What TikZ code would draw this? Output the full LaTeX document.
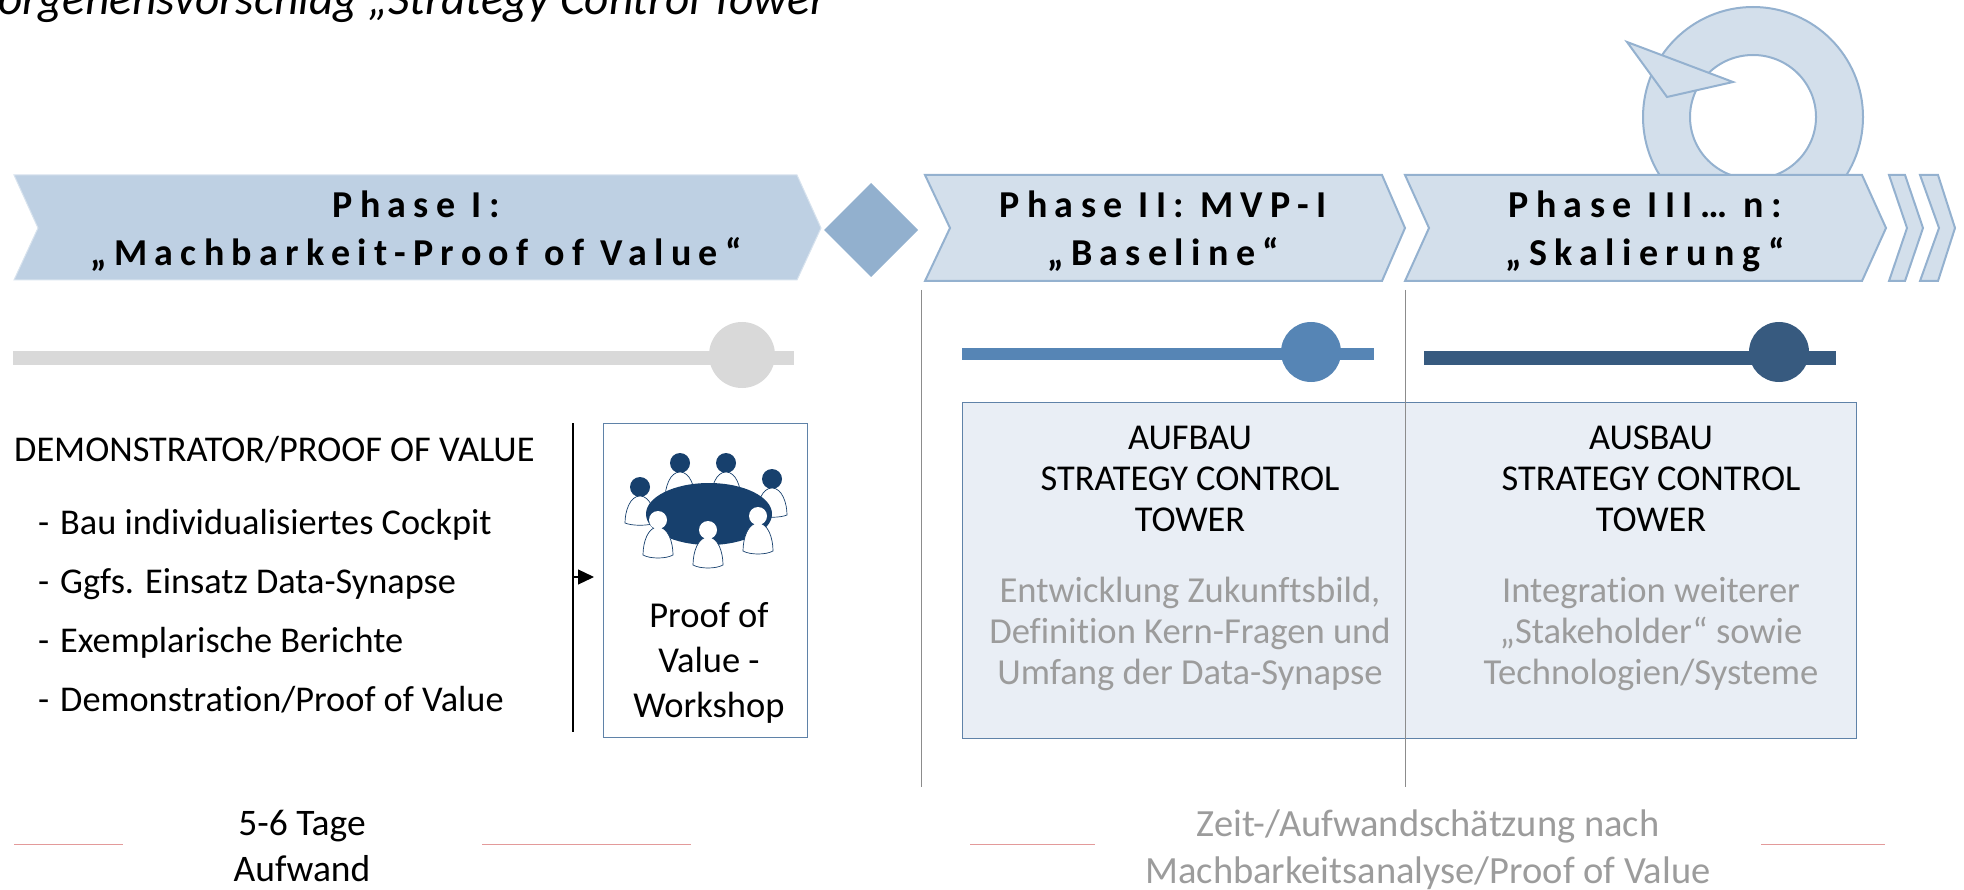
\documentclass[tikz,border=0pt]{standalone}
\usepackage{fontspec}
\setmainfont[Ligatures=NoCommon]{Carlito}
\newfontfamily\phasefont[LetterSpace=19.4,Ligatures=NoCommon]{Carlito}
\definecolor{chevA}{HTML}{BED0E3}
\definecolor{chevB}{HTML}{D3DFEB}
\definecolor{chevLine}{HTML}{94B1CF}
\definecolor{diam}{HTML}{92B0CE}
\definecolor{barGrey}{HTML}{D9D9D9}
\definecolor{barMid}{HTML}{5685B5}
\definecolor{barDark}{HTML}{375A7F}
\definecolor{panel}{HTML}{E9EEF5}
\definecolor{panelLine}{HTML}{5F82A8}
\definecolor{navy}{HTML}{17406D}
\definecolor{softGrey}{HTML}{9C9C9C}
\definecolor{redLine}{HTML}{E39A9A}
\definecolor{rule}{HTML}{8C8C8C}
\usetikzlibrary{arrows.meta}
\tikzset{
  chevfill/.style={fill=chevB,draw=chevLine,line width=2pt,line join=miter},
  phasetext/.style={font=\phasefont\bfseries\fontsize{38}{48}\selectfont,align=center,text=black,inner sep=0pt},
  bodytext/.style={font=\fontsize{36.4}{41}\selectfont,align=center,inner sep=0pt,text=black},
  softtext/.style={font=\fontsize{36.6}{40.7}\selectfont,align=center,inner sep=0pt,text=softGrey},
  listtext/.style={font=\fontsize{36.3}{41}\selectfont,anchor=base west,inner sep=0pt,text=black},
  redrule/.style={draw=redLine,line width=1pt},
  grule/.style={draw=rule,line width=0.9pt}
}
\newcommand{\backperson}[2]{%
  \fill[navy] (#1,#2) circle (10);
  \draw[navy,fill=white,line width=0.7pt] (#1-15,#2+36) .. controls (#1-15,#2+24) and (#1-10,#2+9) .. (#1,#2+9) .. controls (#1+10,#2+9) and (#1+15,#2+24) .. (#1+15,#2+36) .. controls (#1+8,#2+39) and (#1-8,#2+39) .. (#1-15,#2+36) -- cycle;
}
\newcommand{\frontperson}[2]{%
  \draw[navy,fill=white,line width=0.7pt] (#1-15,#2+35) .. controls (#1-15,#2+22) and (#1-10,#2+7) .. (#1,#2+7) .. controls (#1+10,#2+7) and (#1+15,#2+22) .. (#1+15,#2+35) .. controls (#1+8,#2+39) and (#1-8,#2+39) .. (#1-15,#2+35) -- cycle;
  \fill[white] (#1,#2) circle (9);
}
\begin{document}
\begin{tikzpicture}[x=1pt,y=-1pt]
\useasboundingbox (0,0) rectangle (1964,890);
\clip (0,0) rectangle (1964,890);
% title
\node[anchor=base west,inner sep=0pt,font=\itshape\fontsize{47.3}{50}\selectfont] (title) at (-27,15) {Vorgehensvorschlag „Strategy Control Tower};
% ring
\path[chevfill,even odd rule] (1753,117) ellipse [x radius=110,y radius=110] (1753,117) ellipse [x radius=63,y radius=62];
\path[chevfill] (1627,42) -- (1733,82) -- (1667,97) -- cycle;
% chevrons
\path[fill=chevA,draw=chevA!60!white,line width=1pt] (14,175) -- (797,175) -- (821,228) -- (797,280) -- (14,280) -- (38,228) -- cycle;
\path[fill=diam] (871,183) -- (918,230) -- (871,277) -- (824,230) -- cycle;
\path[chevfill] (925,175) -- (1382,175) -- (1405,228) -- (1382,281) -- (925,281) -- (950,228) -- cycle;
\path[chevfill] (1405,175) -- (1862,175) -- (1886,228) -- (1862,281) -- (1405,281) -- (1429,228) -- cycle;
\path[chevfill] (1889,175) -- (1905,175) -- (1923,228) -- (1905,281) -- (1889,281) -- (1907,228) -- cycle;
\path[chevfill] (1920,175) -- (1938,175) -- (1955,228) -- (1938,281) -- (1920,281) -- (1939,228) -- cycle;
\node[phasetext] (p1) at (416,231) {Phase I:\\„Machbarkeit-Proof of Value“};
\node[phasetext] (p2) at (1163,231) {Phase II: MVP-I\\„Baseline“};
\node[phasetext] (p3) at (1645,231) {Phase III… n:\\„Skalierung“};
% rules
\draw[grule] (921,290) -- (921,787);
% bars
\fill[barGrey] (13,351) rectangle (794,365);
\fill[barGrey] (742,355) ellipse [x radius=33,y radius=33];
\fill[barMid] (962,348) rectangle (1374,360);
\fill[barMid] (1311,352) circle (30);
\fill[barDark] (1424,351) rectangle (1836,365);
\fill[barDark] (1779,352) circle (30);
% panel
\path[fill=panel,draw=panelLine,line width=1pt] (962,402) rectangle (1856,738);
\draw[grule] (1405,290) -- (1405,787);
\node[bodytext] (h1) at (1190,479) {AUFBAU\\STRATEGY CONTROL\\TOWER};
\node[bodytext] (h2) at (1651,479) {AUSBAU\\STRATEGY CONTROL\\TOWER};
\node[softtext] (s1) at (1190,634) {Entwicklung Zukunftsbild,\\Definition Kern-Fragen und\\Umfang der Data-Synapse};
\node[softtext] (s2) at (1651,634) {Integration weiterer\\„Stakeholder“ sowie\\Technologien/Systeme};
% left list
\node[listtext] (l0) at (14,461) {DEMONSTRATOR/PROOF OF VALUE};
\node[listtext] (l1) at (38,534) {-};
\node[listtext] (l2) at (38,593) {-};
\node[listtext] (l3) at (38,652) {-};
\node[listtext] (l4) at (38,711) {-};
\node[listtext] (t1) at (60,534) {Bau individualisiertes Cockpit};
\node[listtext] (t2) at (60,593) {Ggfs. Einsatz Data-Synapse};
\node[listtext] (t3) at (60,652) {Exemplarische Berichte};
\node[listtext] (t4) at (60,711) {Demonstration/Proof of Value};
% workshop
\draw[black,line width=1.5pt] (573,423) -- (573,732);
\coordinate (arrowstart) at (573,577);
\path[draw=panelLine,line width=1pt] (603,423) rectangle (807,737);
\node[bodytext,font=\fontsize{36.5}{45}\selectfont] (w) at (709,663) {Proof of\\Value -\\Workshop};
\coordinate (arrowend) at (594,577);
\draw[-{Triangle[length=16pt,width=15pt]},black,line width=1.2pt] (arrowstart) -- (arrowend);
% icon
\backperson{640}{487}
\backperson{680}{463}
\backperson{726}{463}
\backperson{772}{479}
\fill[navy] (709,514) ellipse [x radius=63,y radius=31];
\frontperson{658}{520}
\frontperson{758}{516}
\frontperson{708}{530}
% bottom
\draw[redrule] (14,844) -- (123,844);
\draw[redrule] (482,844) -- (691,844);
\draw[redrule] (970,844) -- (1095,844);
\draw[redrule] (1761,844) -- (1885,844);
\node[bodytext,font=\fontsize{37.5}{46}\selectfont] (d1) at (302,846) {5-6 Tage\\Aufwand};
\node[softtext,font=\fontsize{38.5}{47}\selectfont] (d2) at (1428,850) {Zeit-/Aufwandschätzung nach\\Machbarkeitsanalyse/Proof of Value};
\end{tikzpicture}
\end{document}
